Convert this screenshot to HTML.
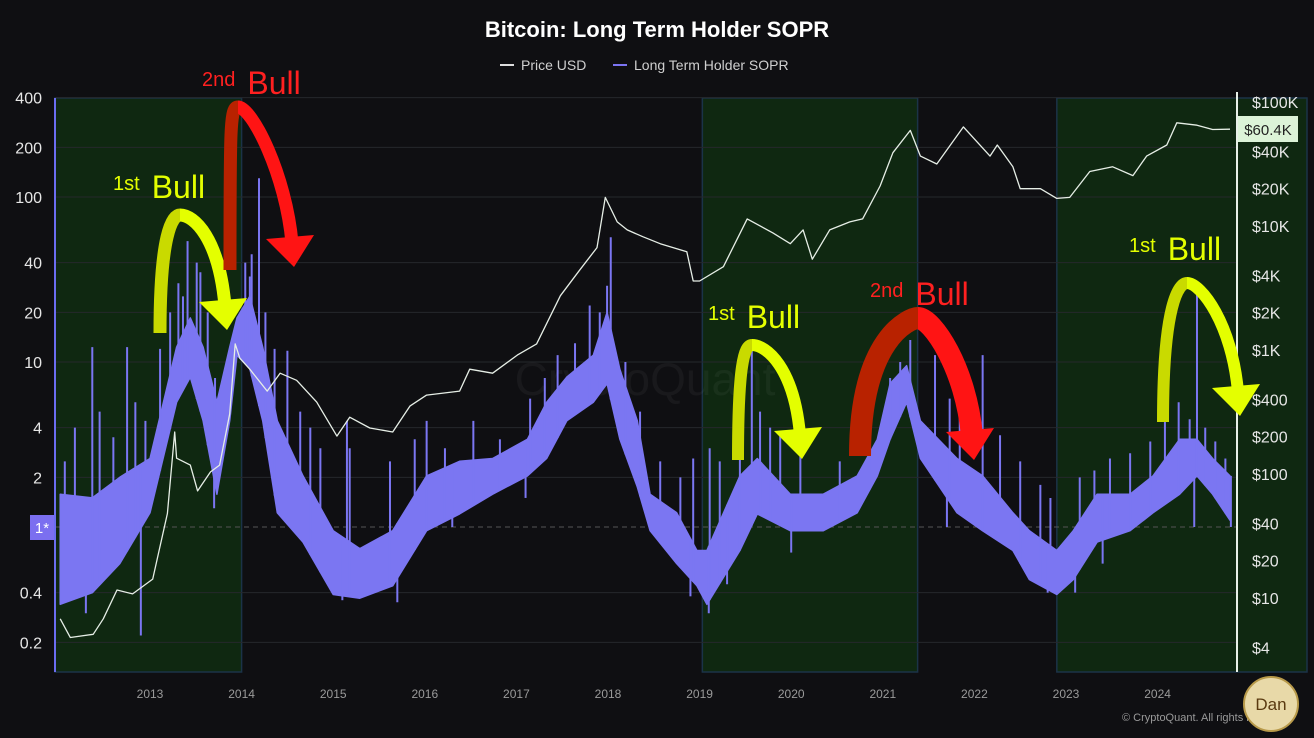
<!DOCTYPE html>
<html><head><meta charset="utf-8"><style>
html,body{margin:0;padding:0;background:#0f0f12;}
body{width:1314px;height:733px;overflow:hidden;font-family:"Liberation Sans",sans-serif;}
svg text{font-family:"Liberation Sans",sans-serif;}
</style></head><body>
<svg id="chart" width="1314" height="733" viewBox="0 0 1314 733" xmlns="http://www.w3.org/2000/svg">
<rect width="1314" height="733" fill="#0f0f12"/>
<g id="regions"></g>
<g id="grid"></g>
<text x="645" y="395" font-size="46" fill="rgba(255,255,255,0.045)" text-anchor="middle">CryptoQuant</text>
<g id="sopr"></g>
<g id="price"></g>
<g id="axes"></g>
<g id="annot"></g>
<text x="657" y="37" font-size="22" font-weight="bold" fill="#ffffff" text-anchor="middle">Bitcoin: Long Term Holder SOPR</text>
<g>
<g><line x1="500" y1="65" x2="514" y2="65" stroke="#dddddd" stroke-width="2"/><text x="521" y="70" font-size="14" fill="#cfcfcf">Price USD</text></g>
<g><line x1="613" y1="65" x2="627" y2="65" stroke="#7b74f2" stroke-width="2"/><text x="634" y="70" font-size="14" fill="#cfcfcf">Long Term Holder SOPR</text></g>
</g>
<text x="1122" y="721" font-size="11" fill="#9a9a9a">© CryptoQuant. All rights reserved</text>
<g><circle cx="1271" cy="704" r="27" fill="#e8d9a8" stroke="#b89a4a" stroke-width="2"/><text x="1271" y="710" font-size="17" fill="#5a3a10" text-anchor="middle" font-family="Liberation Serif,serif">Dan</text></g>
</svg>
<script>
// ---- data ----
const soprTimes = [2012.02,2012.37,2012.67,2013.0,2013.29,2013.44,2013.58,2013.73,2013.87,2013.95,2014.09,2014.23,2014.39,2014.67,2015.0,2015.29,2015.65,2016.02,2016.38,2016.74,2017.12,2017.33,2017.55,2017.84,2017.99,2018.13,2018.32,2018.46,2018.75,2018.97,2019.08,2019.44,2019.63,2019.99,2020.35,2020.72,2020.94,2021.08,2021.26,2021.41,2021.81,2022.09,2022.42,2022.6,2022.9,2023.08,2023.34,2023.7,2023.95,2024.24,2024.43,2024.6,2024.79];
const soprLow = [0.34,0.4,0.6,1.22,5.7,8.1,4.4,1.58,4.4,11,9.1,4.4,1.22,0.81,0.39,0.37,0.44,0.95,1.2,1.58,2.04,2.6,4.4,5.7,7.4,3.4,1.75,0.95,0.6,0.44,0.34,0.72,1.2,0.95,0.95,1.22,2.04,3.4,5.7,2.6,1.22,0.95,0.72,0.48,0.39,0.48,0.81,0.95,1.22,1.58,2.04,1.58,1.1];
const soprHigh = [1.58,1.5,2.0,2.6,12.3,18.5,12.3,5.7,12.3,18.5,25,12.3,4.4,2.04,0.95,0.74,0.95,2.04,2.5,2.6,3.4,5.7,8.1,11,20,9,4.4,1.58,1.22,0.72,0.72,2.04,2.6,1.58,1.58,2.04,3.4,7.4,9.5,4.4,2.6,2.04,1.22,0.95,0.72,0.95,1.58,1.58,2.04,3.4,3.4,2.6,2.04];
const spikeTimes = [2012.37,2012.75,2013.41,2013.51,2014.19,2014.09,2014.5,2015.15,2016.02,2016.53,2017.45,2017.99,2018.03,2018.93,2019.57,2019.44,2021.3,2021.57,2022.09,2023.31,2024.23,2024.43,
 2012.07,2012.18,2012.45,2012.6,2012.84,2012.95,2013.11,2013.22,2013.31,2013.36,2013.55,2013.63,2013.71,2014.04,2014.11,2014.26,2014.36,2014.64,2014.75,2014.86,2015.18,2015.62,2015.89,2016.22,2016.82,2017.15,2017.31,2017.64,2017.8,2017.91,2018.19,2018.35,2018.57,2018.79,2019.11,2019.22,2019.66,2019.77,2019.88,2020.1,2020.53,2020.86,2021.08,2021.19,2021.73,2021.84,2022.28,2022.5,2022.72,2022.83,2023.15,2023.48,2023.7,2023.92,2024.08,2024.35,2024.52,2024.63,2024.74];
const spikeValues = [12.3,12.3,54,40,130,33,11.7,4.4,4.4,4.4,11,29,57,2.6,12.3,2.6,13.6,11,11,2.2,5.7,27,
 2.5,4,5,3.5,5.7,4.4,12,20,30,25,35,20,8,40,45,20,12,5,4,3,3,2.5,3.4,3,3.4,6,8,13,22,20,10,5,2.5,2,3,2.5,5,4,3.7,2.8,2.5,4,8,10,6,5,3.6,2.5,1.8,1.5,2,2.6,2.8,3.3,4.4,4.5,4,3.3,2.6];
const dipTimes = [2012.3,2012.9,2013.7,2015.1,2015.7,2016.3,2017.1,2018.9,2019.1,2019.3,2020.0,2021.7,2022.8,2023.1,2023.4,2024.4,2024.8];
const dipValues = [0.3,0.22,1.3,0.36,0.35,1.0,1.5,0.38,0.3,0.45,0.7,1.0,0.4,0.4,0.6,1.0,1.0];
const priceTimes = [2012.02,2012.13,2012.38,2012.49,2012.64,2012.81,2013.03,2013.19,2013.27,2013.29,2013.44,2013.52,2013.66,2013.76,2013.87,2013.93,2013.98,2014.09,2014.28,2014.42,2014.6,2014.82,2015.04,2015.18,2015.4,2015.65,2015.84,2016.02,2016.38,2016.49,2016.74,2017.01,2017.22,2017.48,2017.69,2017.88,2017.97,2018.1,2018.21,2018.38,2018.57,2018.86,2018.93,2019.0,2019.26,2019.52,2019.8,2019.99,2020.13,2020.23,2020.42,2020.64,2020.78,2020.97,2021.11,2021.3,2021.41,2021.59,2021.88,2022.17,2022.25,2022.42,2022.5,2022.72,2022.9,2023.04,2023.26,2023.51,2023.73,2023.88,2024.1,2024.21,2024.43,2024.6,2024.79];
const priceValues = [6.8,4.8,5.1,6.8,11.6,10.8,14.2,48,218,134,118,73,104,118,305,1120,860,700,466,650,570,380,202,287,235,218,354,433,466,700,650,910,1120,2740,4400,6700,17000,10800,9300,8200,7200,6200,3600,3600,4700,11400,8800,7200,9300,5400,9300,10800,11400,21000,39000,59000,36600,31600,63000,36600,45000,30000,20000,20000,16700,17000,27500,30000,25500,36600,45000,68000,65000,60000,60400];
const leftTicks = [400,200,100,40,20,10,4,2,0.4,0.2];
const rightTicks = ["$100K","$40K","$20K","$10K","$4K","$2K","$1K","$400","$200","$100","$40","$20","$10","$4"];
const rightTickValues = [100000,40000,20000,10000,4000,2000,1000,400,200,100,40,20,10,4];
const yearTicks = [2013,2014,2015,2016,2017,2018,2019,2020,2021,2022,2023,2024];
const bullRegions = [[2011.95,2014.0],[2019.03,2021.38],[2022.9,2025.7]];
// ---- scales ----
const PT=98, PB=672, PL=55, PR=1237;
function xS(t){return 150+(t-2013)*91.6;}
function yL(v){return 527-165*Math.log10(v);}
function yR(p){return 598-124*Math.log10(p/10);}
const NS="http://www.w3.org/2000/svg";
function mk(tag,attrs,parent){const e=document.createElementNS(NS,tag);for(const k in attrs)e.setAttribute(k,attrs[k]);parent.appendChild(e);return e;}
const G=id=>document.getElementById(id);
bullRegions.forEach((r,i)=>{
  const x1=Math.max(PL,xS(r[0])), x2=Math.min(1307,xS(r[1]));
  const e=mk('rect',{x:x1,y:PT,width:x2-x1,height:PB-PT,fill:'#0f2811',stroke:'#1b3348','stroke-width':1.5},G('regions'));
  
  
});
leftTicks.concat([1]).forEach(v=>{
  const y=yL(v);
  const e=mk('line',{x1:PL,x2:PR,y1:y,y2:y,stroke:v===1?'#555':'#26282c','stroke-width':1,'stroke-dasharray':v===1?'5,4':''},G('grid'));
  
  
});
let pts=[];
soprTimes.forEach((t,i)=>pts.push(xS(t).toFixed(1)+','+yL(soprHigh[i]).toFixed(1)));
for(let i=soprTimes.length-1;i>=0;i--)pts.push(xS(soprTimes[i]).toFixed(1)+','+yL(soprLow[i]).toFixed(1));
const band=mk('polygon',{points:pts.join(' '),fill:'#7b76f2',stroke:'#7b76f2','stroke-width':1.5,'stroke-linejoin':'round'},G('sopr'));


function interp(t,arr){
  for(let i=0;i<soprTimes.length-1;i++){if(t>=soprTimes[i]&&t<=soprTimes[i+1]){const f=(t-soprTimes[i])/(soprTimes[i+1]-soprTimes[i]);return Math.pow(10,Math.log10(arr[i])*(1-f)+Math.log10(arr[i+1])*f);}}
  return arr[arr.length-1];
}
spikeTimes.forEach((t,i)=>{
  const x=xS(t);
  const e=mk('line',{x1:x,x2:x,y1:yL(interp(t,soprLow)),y2:yL(spikeValues[i]),stroke:'#7b76f2','stroke-width':2},G('sopr'));
  
  
});
dipTimes.forEach((t,i)=>{
  const x=xS(t);
  const e=mk('line',{x1:x,x2:x,y1:yL(interp(t,soprHigh)),y2:yL(dipValues[i]),stroke:'#7b76f2','stroke-width':2},G('sopr'));
  
  
});
const pl=mk('polyline',{points:priceTimes.map((t,i)=>xS(t).toFixed(1)+','+yR(priceValues[i]).toFixed(1)).join(' '),fill:'none',stroke:'#e6eee6','stroke-width':1.3,'stroke-linejoin':'round'},G('price'));


const ax=G('axes');
let e=mk('line',{x1:PL,x2:PL,y1:PT,y2:PB,stroke:'#6b6df0','stroke-width':2},ax);


e=mk('line',{x1:PR,x2:PR,y1:PT-6,y2:PB,stroke:'#e8f0e8','stroke-width':2},ax);


leftTicks.forEach(v=>{
  const t=mk('text',{x:42,y:yL(v)+6,'font-size':16,fill:'#e6e6e6','text-anchor':'end'},ax);t.textContent=String(v);
  
  
});
e=mk('rect',{x:30,y:515,width:24,height:25,fill:'#7b6ff0'},ax);


e=mk('text',{x:42,y:533,'font-size':15,fill:'#fff','text-anchor':'middle'},ax);e.textContent='1*';


rightTicks.forEach((lab,i)=>{
  const t=mk('text',{x:1252,y:yR(rightTickValues[i])+6,'font-size':16,fill:'#e6e6e6'},ax);t.textContent=lab;
  
  
});
yearTicks.forEach(y=>{
  const t=mk('text',{x:xS(y),y:698,'font-size':12,fill:'#9a9a9a','text-anchor':'middle'},ax);t.textContent=String(y);
  
  
});
e=mk('rect',{x:1238,y:116,width:60,height:26,fill:'#dcf3d8'},ax);


e=mk('text',{x:1268,y:135,'font-size':15,fill:'#222','text-anchor':'middle'},ax);e.textContent='$60.4K';


const an=G('annot');
function arc(x1,y1,xt,yt,x2,y2,cL,cR,w,name){
  const g=mk('g',{},an);
  
  
  mk('path',{d:`M${x1},${y1} C${x1},${yt+20} ${xt-8},${yt} ${xt},${yt}`,fill:'none',stroke:cL,'stroke-width':w},g);
  mk('path',{d:`M${xt},${yt} C${xt+14},${yt} ${x2-6},${y2-80} ${x2},${y2-12}`,fill:'none',stroke:cR,'stroke-width':w},g);
  mk('polygon',{points:`${x2-26},${y2-16} ${x2+22},${y2-20} ${x2+2},${y2+12}`,fill:cR},g);
}
function label(x,y,ord,color,name){
  const t=mk('text',{x:x,y:y,fill:color},an);
  
  
  const a=mk('tspan',{'font-size':20,dy:-8},t);a.textContent=ord;
  const b=mk('tspan',{'font-size':32,dx:12,dy:8},t);b.textContent='Bull';
}
const YL='#e4ff00', YD='#c9da00', RL='#ff1414', RD='#b82200';
arc(160,333,180,215,225,318,YD,YL,13,'arrow-1st-bull-2013');
arc(230,270,238,107,292,255,RD,RL,13,'arrow-2nd-bull-2014');
arc(738,460,752,345,800,447,YD,YL,12,'arrow-1st-bull-2019');
arc(860,456,918,318,972,448,RD,RL,22,'arrow-2nd-bull-2021');
arc(1163,422,1187,283,1238,404,YD,YL,12,'arrow-1st-bull-2024');
label(113,198,'1st',YL,'label-1st-bull-2013');
label(202,94,'2nd','#ff2020','label-2nd-bull-2014');
label(708,328,'1st',YL,'label-1st-bull-2019');
label(870,305,'2nd','#ff2020','label-2nd-bull-2021');
label(1129,260,'1st',YL,'label-1st-bull-2024');
</script>
</body></html>
